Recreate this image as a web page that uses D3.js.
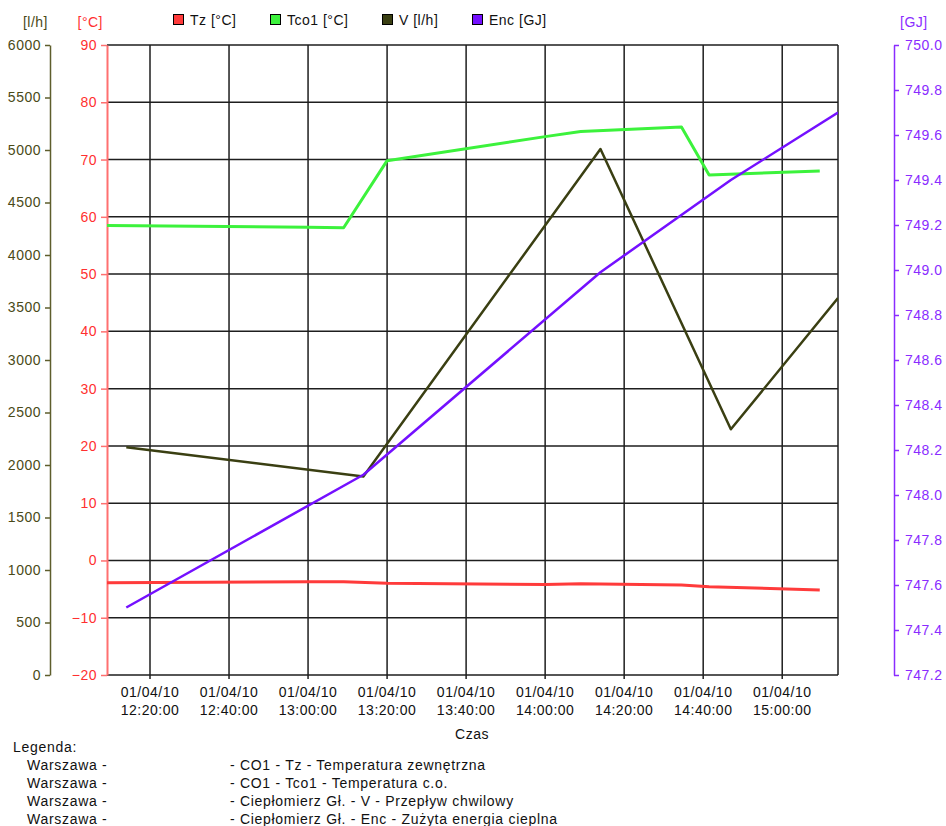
<!DOCTYPE html>
<html>
<head>
<meta charset="utf-8">
<script src="https://cdn.jsdelivr.net/npm/d3@7"></script>
<style>
  html, body { margin: 0; padding: 0; background: #fff; }
  svg { display: block; font-family: "Liberation Sans", Arial, sans-serif; font-size: 14px; letter-spacing: 0.5px; }
</style>
</head>
<body>
<svg id="chart" width="946" height="826"></svg>
<script>
// Temperature readings (CO1)
const tempTimes = ["2010-04-01 12:09:07", "2010-04-01 13:00:00", "2010-04-01 13:09:00", "2010-04-01 13:20:00",
                   "2010-04-01 14:00:00", "2010-04-01 14:09:00", "2010-04-01 14:34:30", "2010-04-01 14:41:30",
                   "2010-04-01 15:09:30"];
const tzValues   = [-3.9, -3.7, -3.7, -4.0, -4.2, -4.05, -4.3, -4.6, -5.15];
const tco1Values = [58.5, 58.2, 58.1, 69.8, 74.0, 74.9, 75.7, 67.3, 68.0];

// Heat meter readings (Ciepłomierz Gł.)
const meterTimes = ["2010-04-01 12:14:00", "2010-04-01 13:14:00", "2010-04-01 14:14:00",
                    "2010-04-01 14:47:00", "2010-04-01 15:14:07"];
const vValues   = [2170, 1890, 5010, 2340, 3590];
const encValues = [747.50, 748.09, 748.99, 749.40, 749.70];

// Axis ticks
const xTickTimes = ["2010-04-01 12:20:00", "2010-04-01 12:40:00", "2010-04-01 13:00:00", "2010-04-01 13:20:00",
                    "2010-04-01 13:40:00", "2010-04-01 14:00:00", "2010-04-01 14:20:00", "2010-04-01 14:40:00",
                    "2010-04-01 15:00:00"];
const tempTicks = [-20, -10, 0, 10, 20, 30, 40, 50, 60, 70, 80, 90];
const vTicks = [0, 500, 1000, 1500, 2000, 2500, 3000, 3500, 4000, 4500, 5000, 5500, 6000];
const encTicks = [747.2, 747.4, 747.6, 747.8, 748.0, 748.2, 748.4, 748.6, 748.8, 749.0, 749.2, 749.4, 749.6, 749.8, 750.0];

// Legend
const seriesNames = ["Tz [°C]", "Tco1 [°C]", "V [l/h]", "Enc [GJ]"];
const seriesColors = ["#ff3b3b", "#3cf23c", "#3a3f12", "#7410ff"];
const legendSources = ["Warszawa -", "Warszawa -", "Warszawa -", "Warszawa -"];
const legendDescriptions = ["- CO1 - Tz - Temperatura zewnętrzna", "- CO1 - Tco1 - Temperatura c.o.",
                            "- Ciepłomierz Gł. - V - Przepływ chwilowy", "- Ciepłomierz Gł. - Enc - Zużyta energia cieplna"];

const parse = d3.timeParse("%Y-%m-%d %H:%M:%S");
const svg = d3.select("#chart");

const plotLeft = 107, plotRight = 838, plotTop = 45, plotBottom = 675;
const vAxisX = 50, encAxisX = 894;

const x = d3.scaleTime()
  .domain([parse("2010-04-01 12:09:07"), parse("2010-04-01 15:14:07")])
  .range([plotLeft, plotRight]);
const yT = d3.scaleLinear().domain([-20, 90]).range([plotBottom, plotTop]);
const yV = d3.scaleLinear().domain([0, 6000]).range([plotBottom, plotTop]);
const yE = d3.scaleLinear().domain([747.2, 750.0]).range([plotBottom, plotTop]);

const tempAxisColor = "#ff7070";
const vAxisColor = "#5e5e2c";
const encAxisColor = "#8a2cff";
const gridColor = "#1e1e1e";

// Grid
const grid = svg.append("g");
tempTicks.forEach(t => {
  grid.append("line").attr("x1", plotLeft).attr("x2", plotRight)
    .attr("y1", yT(t)).attr("y2", yT(t))
    .attr("stroke", gridColor).attr("stroke-width", 1.5);
});
xTickTimes.map(parse).forEach(t => {
  grid.append("line").attr("x1", x(t)).attr("x2", x(t))
    .attr("y1", plotTop).attr("y2", plotBottom + 4)
    .attr("stroke", gridColor).attr("stroke-width", 1.5);
});
grid.append("line").attr("x1", plotRight).attr("x2", plotRight).attr("y1", plotTop).attr("y2", plotBottom)
  .attr("stroke", gridColor).attr("stroke-width", 1.5);

// Axes
function styleAxis(g, color) {
  g.selectAll("path.domain").attr("stroke", color).attr("stroke-width", 1.5);
  g.selectAll(".tick line").attr("stroke", color).attr("stroke-width", 1.5);
  g.selectAll(".tick text").attr("fill", color)
    .style("font-family", "'Liberation Sans', Arial, sans-serif").style("font-size", "14px");
}

const gV = svg.append("g").attr("transform", `translate(${vAxisX},0)`)
  .call(d3.axisLeft(yV).tickValues(vTicks).tickSize(5).tickSizeOuter(0).tickPadding(4).tickFormat(d3.format("d")));
styleAxis(gV, vAxisColor);
gV.selectAll(".tick text").attr("fill", "#4a4a18");

const gT = svg.append("g").attr("transform", `translate(${plotLeft},0)`)
  .call(d3.axisLeft(yT).tickValues(tempTicks).tickSize(6).tickSizeOuter(0).tickPadding(4).tickFormat(d3.format("d")));
styleAxis(gT, tempAxisColor);
gT.selectAll("path.domain").attr("stroke-width", 2);
gT.selectAll(".tick text").attr("fill", "#ff3030");

const gE = svg.append("g").attr("transform", `translate(${encAxisX},0)`)
  .call(d3.axisRight(yE).tickValues(encTicks).tickSize(5).tickSizeOuter(0).tickPadding(6).tickFormat(d3.format(".1f")));
styleAxis(gE, encAxisColor);

// Axis units
svg.append("text").attr("x", 48).attr("y", 27).attr("text-anchor", "end").attr("fill", "#4a4a18").text("[l/h]");
svg.append("text").attr("x", 103).attr("y", 27).attr("text-anchor", "end").attr("fill", "#ff3030").text("[°C]");
svg.append("text").attr("x", 900).attr("y", 27).attr("fill", encAxisColor).text("[GJ]");

// X axis labels
const fDate = d3.timeFormat("%d/%m/%y"), fTime = d3.timeFormat("%H:%M:%S");
const xl = svg.append("g");
xTickTimes.map(parse).forEach(t => {
  const tx = xl.append("text").attr("x", x(t)).attr("text-anchor", "middle").attr("fill", "#111");
  tx.append("tspan").attr("x", x(t)).attr("y", 697).text(fDate(t));
  tx.append("tspan").attr("x", x(t)).attr("y", 715).text(fTime(t));
});
svg.append("text").attr("x", 472).attr("y", 739).attr("text-anchor", "middle").attr("fill", "#111").text("Czas");

// Series
svg.append("clipPath").attr("id", "plot-clip").append("rect")
  .attr("x", plotLeft).attr("y", plotTop).attr("width", plotRight - plotLeft).attr("height", plotBottom - plotTop);
const plot = svg.append("g").attr("clip-path", "url(#plot-clip)");

const tTimes = tempTimes.map(parse);
const mTimes = meterTimes.map(parse);

function drawLine(times, values, scale, color, width) {
  const data = times.map((t, i) => [t, values[i]]);
  plot.append("path").datum(data)
    .attr("fill", "none").attr("stroke", color).attr("stroke-width", width)
    .attr("stroke-linejoin", "round")
    .attr("d", d3.line().x(d => x(d[0])).y(d => scale(d[1])));
}
drawLine(tTimes, tzValues, yT, seriesColors[0], 3);
drawLine(tTimes, tco1Values, yT, seriesColors[1], 3);
drawLine(mTimes, vValues, yV, seriesColors[2], 2.5);
drawLine(mTimes, encValues, yE, seriesColors[3], 2.5);

// Top legend
const legendX = [173, 270, 382, 472];
const lg = svg.append("g");
seriesNames.forEach((name, i) => {
  lg.append("rect").attr("x", legendX[i] + 0.5).attr("y", 14.5).attr("width", 10).attr("height", 10)
    .attr("fill", seriesColors[i]).attr("stroke", "#000").attr("stroke-width", 1);
  lg.append("text").attr("x", legendX[i] + 17).attr("y", 25).attr("fill", "#111").text(name);
});

// Bottom legend
const bl = svg.append("g").attr("fill", "#111").style("letter-spacing", "0.7px");
bl.append("text").attr("x", 13).attr("y", 752).text("Legenda:");
legendSources.forEach((s, i) => {
  bl.append("text").attr("x", 27).attr("y", 770 + i * 18).text(s);
  bl.append("text").attr("x", 230).attr("y", 770 + i * 18).text(legendDescriptions[i]);
});
</script>
</body>
</html>
